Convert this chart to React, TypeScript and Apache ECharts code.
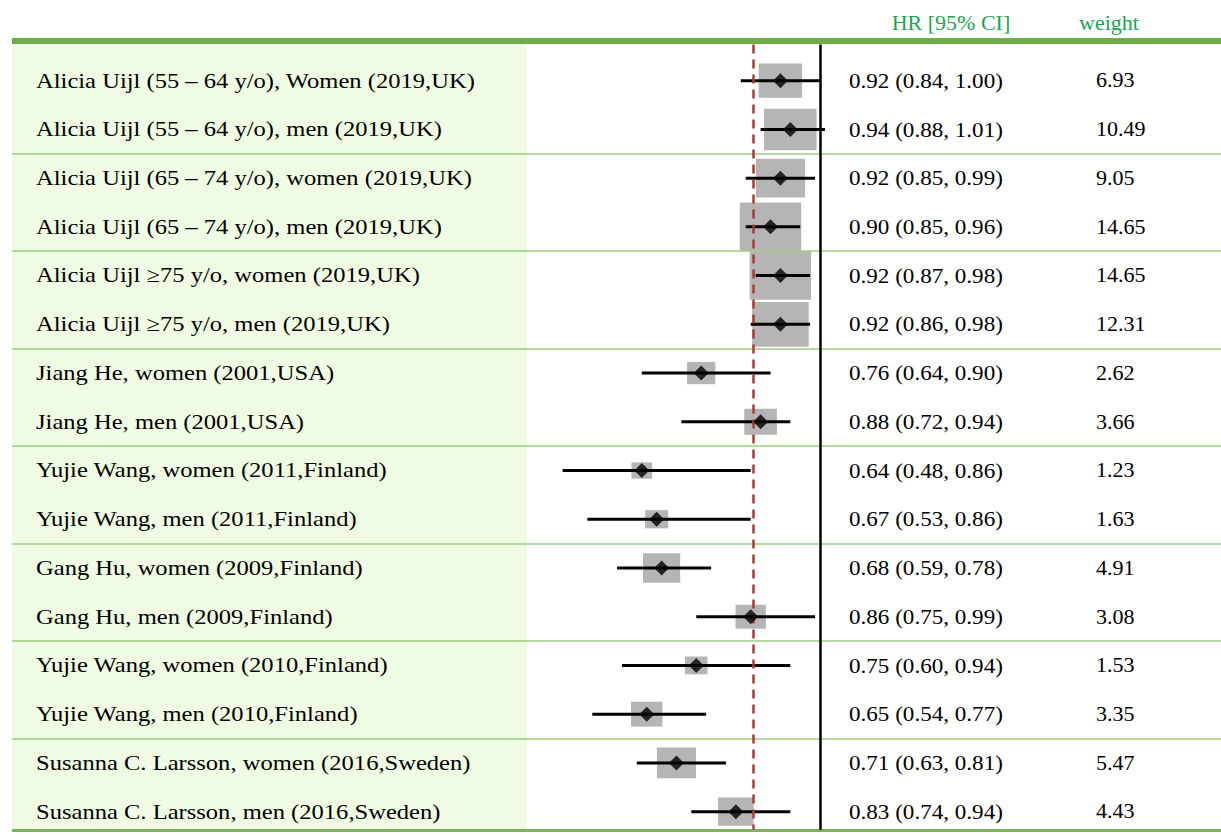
import React, { useEffect, useRef } from "react";
import * as echarts from "echarts";

const studies = [
  "Alicia Uijl (55 – 64 y/o), Women (2019,UK)",
  "Alicia Uijl (55 – 64 y/o), men (2019,UK)",
  "Alicia Uijl (65 – 74 y/o), women (2019,UK)",
  "Alicia Uijl (65 – 74 y/o), men (2019,UK)",
  "Alicia Uijl ≥75 y/o, women (2019,UK)",
  "Alicia Uijl ≥75 y/o, men (2019,UK)",
  "Jiang He, women (2001,USA)",
  "Jiang He, men (2001,USA)",
  "Yujie Wang, women (2011,Finland)",
  "Yujie Wang, men (2011,Finland)",
  "Gang Hu, women (2009,Finland)",
  "Gang Hu, men (2009,Finland)",
  "Yujie Wang, women (2010,Finland)",
  "Yujie Wang, men (2010,Finland)",
  "Susanna C. Larsson, women (2016,Sweden)",
  "Susanna C. Larsson, men (2016,Sweden)",
];
const hr = [0.92, 0.94, 0.92, 0.9, 0.92, 0.92, 0.76, 0.88, 0.64, 0.67, 0.68, 0.86, 0.75, 0.65, 0.71, 0.83];
const lower = [0.84, 0.88, 0.85, 0.85, 0.87, 0.86, 0.64, 0.72, 0.48, 0.53, 0.59, 0.75, 0.6, 0.54, 0.63, 0.74];
const upper = [1.0, 1.01, 0.99, 0.96, 0.98, 0.98, 0.9, 0.94, 0.86, 0.86, 0.78, 0.99, 0.94, 0.77, 0.81, 0.94];
const weights = [6.93, 10.49, 9.05, 14.65, 14.65, 12.31, 2.62, 3.66, 1.23, 1.63, 4.91, 3.08, 1.53, 3.35, 5.47, 4.43];
const pooledHR = 0.865;
const nullHR = 1;
const headers = ["HR [95% CI]", "weight"];
const groupBreaks = [1.5, 3.5, 5.5, 7.5, 9.5, 11.5, 13.5];

const rows = studies.map((_, i) => i);
const SERIF = '"Liberation Serif", "Times New Roman", serif';

export default function App() {
  const ref = useRef<HTMLDivElement>(null);
  useEffect(() => {
    if (!ref.current) return;
    const chart = echarts.init(ref.current, null, { renderer: "svg" });
    const yTop = -1.6;
    const yBottom = 15.5;
    const panelTop = -0.74;
    const panelBottom = 15.37;
    const gridTop = 2.7;
    const gridHeight = 836.7;

    const textSeries = (
      name: string,
      xPos: number,
      labels: string[],
      font: string,
      scaleX: number,
      fill: string,
      align: string,
      rowVals: number[]
    ) => ({
      type: "custom",
      name,
      xAxisIndex: 1,
      yAxisIndex: 1,
      z: 6,
      silent: true,
      data: labels.map((_, i) => [xPos, rowVals[i]]),
      encode: { x: 0, y: 1 },
      renderItem: (params: any, api: any) => {
        const c = api.coord([api.value(0), api.value(1)]);
        return {
          type: "text",
          x: c[0],
          y: c[1],
          scaleX,
          style: {
            text: labels[params.dataIndex],
            font,
            fill,
            align,
            verticalAlign: "middle",
          },
        };
      },
    });

    const option: any = {
      animation: false,
      backgroundColor: "#ffffff",
      grid: [
        { left: 523, width: 321.75, top: gridTop, height: gridHeight, containLabel: false },
        { left: 12, width: 1209, top: gridTop, height: gridHeight, containLabel: false },
      ],
      xAxis: [
        { type: "value", gridIndex: 0, min: 0.4, max: 1.05, show: false },
        { type: "value", gridIndex: 1, min: 12, max: 1221, show: false },
      ],
      yAxis: [
        { type: "value", gridIndex: 0, min: yTop, max: yBottom, inverse: true, show: false },
        { type: "value", gridIndex: 1, min: yTop, max: yBottom, inverse: true, show: false },
      ],
      series: [
        // background panel and rules
        {
          type: "line",
          xAxisIndex: 1,
          yAxisIndex: 1,
          data: [],
          z: 0,
          silent: true,
          markArea: {
            silent: true,
            itemStyle: { color: "#effce3" },
            data: [[{ xAxis: 12, yAxis: panelTop }, { xAxis: 527, yAxis: panelBottom }]],
          },
        },
        {
          type: "line",
          xAxisIndex: 1,
          yAxisIndex: 1,
          data: [],
          z: 7,
          silent: true,
          markLine: {
            silent: true,
            symbol: "none",
            label: { show: false },
            data: [
              { yAxis: -0.805, lineStyle: { color: "#70ad47", width: 6, type: "solid" } },
              { yAxis: 15.39, lineStyle: { color: "#7ab55a", width: 3, type: "solid" } },
              ...groupBreaks.map((b) => ({
                yAxis: b,
                lineStyle: { color: "#9dcd7f", width: 1.5, type: "solid" },
              })),
            ],
          },
        },
        // reference lines
        {
          type: "line",
          xAxisIndex: 0,
          yAxisIndex: 0,
          data: [],
          z: 1,
          silent: true,
          markLine: {
            silent: true,
            symbol: "none",
            label: { show: false },
            data: [
              [
                { coord: [pooledHR, panelTop], lineStyle: { color: "#ad3a3a", width: 2.5, type: [9, 6] } },
                { coord: [pooledHR, panelBottom] },
              ],
            ],
          },
        },
        {
          type: "line",
          xAxisIndex: 0,
          yAxisIndex: 0,
          data: [],
          z: 4,
          silent: true,
          markLine: {
            silent: true,
            symbol: "none",
            label: { show: false },
            data: [
              [
                { coord: [nullHR, panelTop], lineStyle: { color: "#000000", width: 2.5, type: "solid" } },
                { coord: [nullHR, panelBottom] },
              ],
            ],
          },
        },
        // weight boxes
        {
          type: "custom",
          name: "weight",
          xAxisIndex: 0,
          yAxisIndex: 0,
          z: 2,
          silent: true,
          data: rows.map((i) => [hr[i], i, weights[i]]),
          encode: { x: 0, y: 1 },
          renderItem: (params: any, api: any) => {
            const c = api.coord([api.value(0), api.value(1)]);
            const w = 4 + 15 * Math.sqrt(api.value(2));
            const h = 0.79 * w;
            return {
              type: "rect",
              shape: { x: c[0] - w / 2, y: c[1] - h / 2, width: w, height: h },
              style: { fill: "#b5b5b5" },
            };
          },
        },
        // confidence intervals
        {
          type: "custom",
          name: "CI",
          xAxisIndex: 0,
          yAxisIndex: 0,
          z: 3,
          silent: true,
          data: rows.map((i) => [lower[i], upper[i], i]),
          encode: { x: [0, 1], y: 2 },
          renderItem: (params: any, api: any) => {
            const a = api.coord([api.value(0), api.value(2)]);
            const b = api.coord([api.value(1), api.value(2)]);
            return {
              type: "line",
              shape: { x1: a[0], y1: a[1], x2: b[0], y2: b[1] },
              style: { stroke: "#000000", lineWidth: 3 },
            };
          },
        },
        // point estimates
        {
          type: "scatter",
          name: "HR",
          xAxisIndex: 0,
          yAxisIndex: 0,
          z: 5,
          silent: true,
          symbol: "diamond",
          symbolSize: [15, 15],
          itemStyle: { color: "#000000" },
          data: rows.map((i) => [hr[i], i]),
        },
        // text columns
        textSeries("names", 36, studies, `21px ${SERIF}`, 1.17, "#000000", "left", rows),
        textSeries(
          "hrText",
          849,
          rows.map((i) => `${hr[i].toFixed(2)} (${lower[i].toFixed(2)}, ${upper[i].toFixed(2)})`),
          `21px ${SERIF}`,
          1.1,
          "#000000",
          "left",
          rows
        ),
        textSeries(
          "weightText",
          1096,
          weights.map((w) => w.toFixed(2)),
          `21px ${SERIF}`,
          1.05,
          "#000000",
          "left",
          rows
        ),
        {
          type: "custom",
          name: "headers",
          xAxisIndex: 1,
          yAxisIndex: 1,
          z: 6,
          silent: true,
          data: [
            [951, -1.2],
            [1109, -1.2],
          ],
          encode: { x: 0, y: 1 },
          renderItem: (params: any, api: any) => {
            const c = api.coord([api.value(0), api.value(1)]);
            return {
              type: "text",
              x: c[0],
              y: c[1],
              style: {
                text: headers[params.dataIndex],
                font: `22px ${SERIF}`,
                fill: "#1aa64d",
                align: "center",
                verticalAlign: "middle",
              },
            };
          },
        },
      ],
    };
    chart.setOption(option);
    return () => chart.dispose();
  }, []);

  return (
    <div
      ref={ref}
      style={{ position: "fixed", left: 0, top: 0, width: 1221, height: 836, background: "#ffffff" }}
    />
  );
}
